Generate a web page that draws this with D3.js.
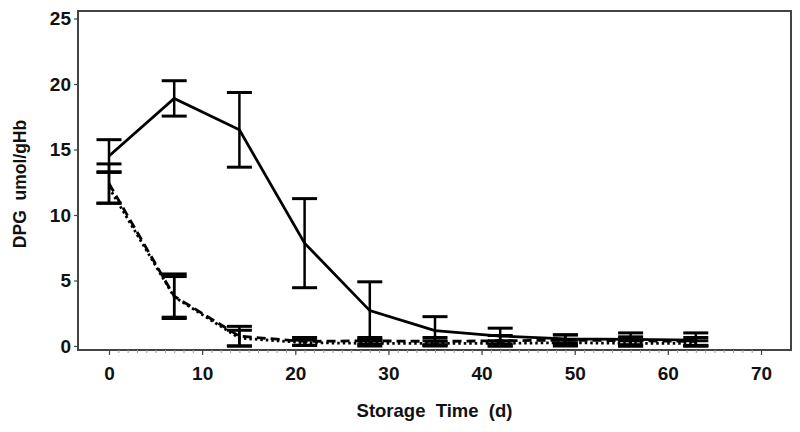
<!DOCTYPE html>
<html>
<head>
<meta charset="utf-8">
<script src="https://cdn.jsdelivr.net/npm/d3@7"></script>
<style>
  body { margin: 0; background: #fff; }
  svg text { font-family: "Liberation Sans", Arial, sans-serif; font-weight: bold; fill: #111; }
</style>
</head>
<body>
<svg id="chart" width="800" height="432"></svg>
<script>
// DPG levels over storage time, three groups with SD error bars

const days = [0, 7, 14, 21, 28, 35, 42, 49, 56, 63];

const solidMean = [14.5, 18.9, 16.5, 7.85, 2.7, 1.17, 0.76, 0.55, 0.5, 0.45];
const solidSd   = [1.25, 1.35, 2.85, 3.4, 2.2, 1.07, 0.6, 0.3, 0.5, 0.55];

const dashMean = [12.4, 3.8, 0.75, 0.35, 0.4, 0.35, 0.4, 0.45, 0.4, 0.35];
const dashSd   = [1.5, 1.7, 0.75, 0.3, 0.25, 0.3, 0.4, 0.4, 0.3, 0.3];

const dotMean = [12.1, 3.75, 0.6, 0.25, 0.2, 0.2, 0.2, 0.25, 0.2, 0.2];
const dotSd   = [1.2, 1.55, 0.6, 0.2, 0.2, 0.2, 0.2, 0.25, 0.2, 0.2];

const xTicks = [0, 10, 20, 30, 40, 50, 60, 70];
const yTicks = [0, 5, 10, 15, 20, 25];

const xLabel = "Storage  Time  (d)";
const yLabel = "DPG  umol/gHb";

const series = [
    { mean: solidMean, sd: solidSd, dash: null },
    { mean: dashMean, sd: dashSd, dash: "9,5" },
    { mean: dotMean, sd: dotSd, dash: "2.5,3" }
];

const svg = d3.select("#chart");

// frame edges in pixels
const frame = { left: 78, right: 791, top: 11, bottom: 350 };

const x = d3.scaleLinear().domain([0, 70]).range([109, 761]);
const y = d3.scaleLinear().domain([0, 25]).range([346, 18.5]);

// plot frame
svg.append("rect")
    .attr("x", frame.left)
    .attr("y", frame.top)
    .attr("width", frame.right - frame.left)
    .attr("height", frame.bottom - frame.top)
    .attr("fill", "none")
    .attr("stroke", "#444")
    .attr("stroke-width", 2);

// x axis: minor ticks every day, major every 10
const xAxisG = svg.append("g")
    .attr("transform", `translate(0,${frame.bottom})`);

xAxisG.append("g")
    .call(d3.axisBottom(x).tickValues(d3.range(0, 71, 1)).tickSize(3).tickFormat(""))
    .call(g => g.select(".domain").remove())
    .call(g => g.selectAll("line").attr("stroke", "#999"));

xAxisG.append("g")
    .call(d3.axisBottom(x).tickValues(xTicks).tickSize(5).tickPadding(12).tickFormat(d3.format("d")))
    .call(g => g.select(".domain").remove())
    .call(g => g.selectAll("line").attr("stroke", "#444").attr("stroke-width", 1.2))
    .call(g => g.selectAll("text").attr("font-size", 19).attr("font-family", null).attr("fill", "#111"));

// y axis
svg.append("g")
    .attr("transform", `translate(${frame.left},0)`)
    .call(d3.axisLeft(y).tickValues(yTicks).tickSize(4).tickPadding(3).tickFormat(d3.format("d")))
    .call(g => g.select(".domain").remove())
    .call(g => g.selectAll("line").attr("stroke", "#444").attr("stroke-width", 1.2))
    .call(g => g.selectAll("text").attr("font-size", 19).attr("font-family", null).attr("fill", "#111"));

// axis titles
svg.append("text")
    .attr("x", (frame.left + frame.right) / 2)
    .attr("y", 417)
    .attr("text-anchor", "middle")
    .attr("font-size", 18.5)
    .style("white-space", "pre")
    .text(xLabel);

svg.append("text")
    .attr("transform", "translate(26,184) rotate(-90)")
    .attr("text-anchor", "middle")
    .attr("font-size", 17.5)
    .style("white-space", "pre")
    .text(yLabel);

const line = d3.line()
    .x((d, i) => x(days[i]))
    .y(d => y(d));

const capHalf = 12.5;

series.forEach(s => {
    const g = svg.append("g");

    // error bars
    const bars = g.selectAll(".bar")
        .data(days.map((d, i) => ({ day: d, lo: Math.max(0, s.mean[i] - s.sd[i]), hi: s.mean[i] + s.sd[i] })))
        .enter().append("g");

    bars.append("line")
        .attr("x1", d => x(d.day)).attr("x2", d => x(d.day))
        .attr("y1", d => y(d.lo)).attr("y2", d => y(d.hi))
        .attr("stroke", "#000").attr("stroke-width", 2.5);

    ["lo", "hi"].forEach(k => {
        bars.append("line")
            .attr("x1", d => x(d.day) - capHalf).attr("x2", d => x(d.day) + capHalf)
            .attr("y1", d => y(d[k])).attr("y2", d => y(d[k]))
            .attr("stroke", "#000").attr("stroke-width", 3);
    });

    // mean line
    g.append("path")
        .attr("d", line(s.mean))
        .attr("fill", "none")
        .attr("stroke", "#000")
        .attr("stroke-width", 2.8)
        .attr("stroke-dasharray", s.dash);
});
</script>
</body>
</html>
